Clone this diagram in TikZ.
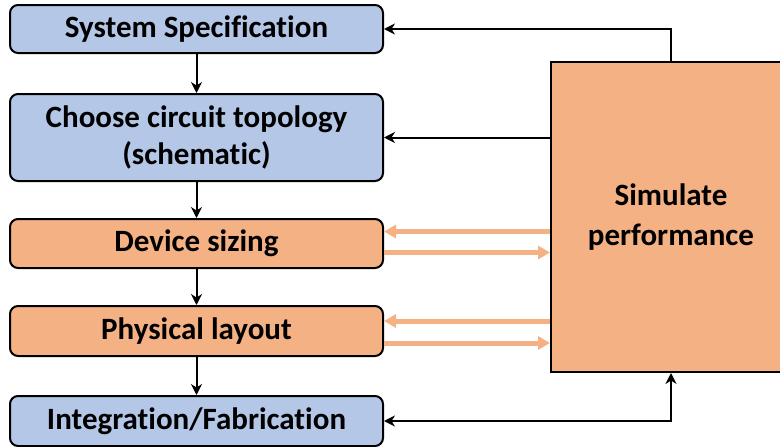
\documentclass[tikz,border=0pt]{standalone}
\usepackage{fontspec}
\setmainfont[Ligatures={NoCommon}]{Carlito}
\definecolor{flowblue}{RGB}{180,199,231}
\definecolor{floworange}{RGB}{244,177,131}
\usetikzlibrary{arrows.meta,calc}

\begin{document}
\begin{tikzpicture}[x=1pt, y=-1pt,
  sbox/.style={rectangle, rounded corners=8pt, draw=black, line width=2pt,
               minimum width=373pt, inner sep=0pt, align=center,
               font=\fontsize{31}{37}\selectfont\bfseries},
  simbox/.style={rectangle, draw=black, line width=2pt, fill=floworange,
                 minimum width=240pt, minimum height=310pt, align=center,
                 font=\fontsize{31}{40}\selectfont\bfseries},
  arr/.style={-{Stealth[length=11pt, width=11pt]}, line width=2pt},
  arrboth/.style={{Stealth[length=11pt, width=11pt]}-{Stealth[length=11pt, width=11pt]}, line width=2pt},
  oarr/.style={-{Triangle[length=12pt, width=13pt]}, line width=5pt, draw=floworange}
]
\useasboundingbox (0,0) rectangle (780,447);

% Flow boxes (left column)
\node[sbox, fill=flowblue, minimum height=48pt] (spec) at (196.5,29) {System Specification};
\node[sbox, fill=flowblue, minimum height=87pt] (topo) at (196.5,137.5)
  {Choose circuit topology\\(schematic)};
\node[sbox, fill=floworange, minimum height=49pt] (sizing) at (196.5,243.5) {Device sizing};
\node[sbox, fill=floworange, minimum height=50pt] (layout) at (196.5,331) {Physical layout};
\node[sbox, fill=flowblue, minimum height=50pt] (integ) at (196.5,421) {Integration/Fabrication};

% Simulation block (right)
\node[simbox] (sim) at (671,217) {Simulate\\performance};

% Downward flow
\draw[arr] (spec)   -- (topo);
\draw[arr] (topo)   -- (sizing);
\draw[arr] (sizing) -- (layout);
\draw[arr] (layout) -- (integ);

% Feedback from simulation
\draw[arr] (sim.north) |- (spec.east);
\draw[arr] (sim.west |- topo.east) -- (topo.east);
\draw[arrboth] (integ.east) -| (sim.south);

% Sizing / layout iterations
\draw[oarr] ([yshift=12pt]sim.west |- sizing.east) -- ([yshift=12pt]sizing.east);
\draw[oarr] ([yshift=-9pt]sizing.east) -- ([yshift=-9pt]sim.west |- sizing.east);
\draw[oarr] ([yshift=10pt]sim.west |- layout.east) -- ([yshift=10pt]layout.east);
\draw[oarr] ([yshift=-12pt]layout.east) -- ([yshift=-12pt]sim.west |- layout.east);
\end{tikzpicture}
\end{document}
